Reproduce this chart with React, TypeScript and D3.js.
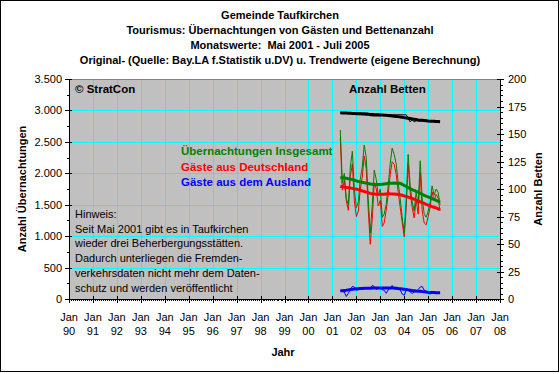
import React from "react";
import * as d3 from "d3";

// ---- data ----
const titleLines = [
  "Gemeinde Taufkirchen",
  "Tourismus: Übernachtungen von Gästen und Bettenanzahl",
  "Monatswerte:  Mai 2001 - Juli 2005",
  "Original- (Quelle: Bay.LA f.Statistik u.DV) u. Trendwerte (eigene Berechnung)",
];
const hinweisLines = [
  "Hinweis:",
  "Seit Mai 2001 gibt es in Taufkirchen",
  "wieder drei Beherbergungsstätten.",
  "Dadurch unterliegen die Fremden-",
  "verkehrsdaten nicht mehr dem Daten-",
  "schutz und werden veröffentlicht",
];
const leftTicks = [0, 500, 1000, 1500, 2000, 2500, 3000, 3500];
const rightTicks = [0, 25, 50, 75, 100, 125, 150, 175, 200];
const yearTicks = d3.range(1990, 2009);

// monthly values May 2001 .. Jul 2005 (51 months)
const startMonth = new Date(2001, 4, 1);
const total = [
  2690, 1850, 2000, 1600, 1500, 2100, 2350, 1750, 1450, 1550,
  1900, 2100, 2450, 2250, 1600, 1050, 1500, 2050, 1900, 1650,
  1750, 1300, 1350, 1500, 1800, 2150, 2400, 2300, 2150, 1850,
  1600, 1300, 1050, 1600, 2300, 1800, 1550, 1400, 1700, 1500,
  2200, 1600, 1350, 1300, 1400, 1550, 1800, 1650, 1750, 1700, 1500,
];
const ausland = [
  130, 120, 110, 40, 90, 150, 200, 190, 140, 150,
  165, 160, 175, 180, 175, 180, 215, 200, 150, 170,
  180, 145, 140, 90, 145, 175, 215, 160, 165, 150,
  145, 80, 60, 140, 150, 110, 90, 110, 120, 150,
  190, 200, 140, 120, 90, 80, 95, 90, 85, 95, 100,
];
const deutschland = [
  2560, 1730, 1890, 1560, 1410, 1950, 2150, 1560, 1310, 1400,
  1735, 1940, 2275, 2070, 1425, 870, 1285, 1850, 1750, 1480,
  1570, 1155, 1210, 1410, 1655, 1975, 2185, 2140, 1985, 1700,
  1455, 1220, 990, 1460, 2150, 1690, 1460, 1290, 1580, 1350,
  2010, 1400, 1210, 1180, 1310, 1470, 1705, 1560, 1665, 1605, 1400,
];
const betten = [
  169, 169, 169, 169, 169, 169, 169, 169, 169, 169,
  169, 169, 169, 169, 169, 166.5, 166.5, 166.5, 166.5, 166.5,
  166.5, 167.5, 167.5, 167.5, 167.5, 167.5, 167.5, 167.5, 167.5, 167.5,
  167.5, 167.5, 167.5, 167.5, 164, 161, 163, 161, 162, 162,
  162, 162, 162, 161.5, 161.5, 161.5, 161.5, 161, 161, 161, 161,
];
const trendTotal = [
  1935, 1930, 1925, 1920, 1913, 1907, 1900, 1890, 1880, 1870,
  1863, 1857, 1850, 1843, 1837, 1830, 1827, 1823, 1820, 1822,
  1823, 1825, 1830, 1835, 1840, 1842, 1843, 1845, 1843, 1842,
  1840, 1823, 1807, 1790, 1773, 1757, 1740, 1727, 1713, 1700,
  1683, 1667, 1650, 1637, 1623, 1610, 1597, 1583, 1570, 1555, 1540,
];
const trendDeutschland = [
  1790, 1785, 1780, 1775, 1770, 1765, 1760, 1753, 1747, 1740,
  1730, 1720, 1710, 1700, 1690, 1680, 1675, 1670, 1665, 1665,
  1665, 1665, 1668, 1672, 1675, 1673, 1672, 1670, 1667, 1663,
  1660, 1650, 1640, 1630, 1620, 1610, 1600, 1587, 1573, 1560,
  1547, 1533, 1520, 1507, 1493, 1480, 1470, 1460, 1450, 1435, 1420,
];
const trendAusland = [
  130, 133, 137, 140, 145, 150, 155, 158, 162, 165,
  167, 168, 170, 171, 172, 173, 174, 175, 175, 175,
  175, 175, 175, 175, 175, 175, 175, 175, 172, 168,
  165, 160, 155, 150, 145, 140, 135, 132, 128, 125,
  122, 118, 115, 112, 108, 105, 103, 102, 100, 100, 100,
];
const trendBetten = [
  169.3, 169.2, 169.1, 169.0, 168.9, 168.8, 168.7, 168.6, 168.5, 168.4,
  168.3, 168.2, 168.1, 168.0, 167.9, 167.8, 167.7, 167.6, 167.5, 167.4,
  167.3, 167.2, 167.1, 167.0, 166.8, 166.6, 166.4, 166.2, 166.0, 165.8,
  165.5, 165.2, 164.9, 164.6, 164.3, 164.0, 163.7, 163.4, 163.1, 162.8,
  162.6, 162.4, 162.2, 162.0, 161.8, 161.7, 161.6, 161.5, 161.4, 161.3, 161.2,
];

const legendItems = [
  { label: "Übernachtungen Insgesamt", color: "#008000" },
  { label: "Gäste aus Deutschland", color: "#FF0000" },
  { label: "Gäste aus dem Ausland", color: "#0000FF" },
];

// ---- layout ----
const W = 560;
const H = 374;
const plot = { left: 69, right: 500, top: 79, bottom: 299 };
const FONT = "'Liberation Sans', Arial, sans-serif";

export default function App() {
  const x = d3
    .scaleTime()
    .domain([new Date(1990, 0, 1), new Date(2008, 0, 1)])
    .range([plot.left, plot.right]);
  const yL = d3.scaleLinear().domain([0, 3500]).range([plot.bottom, plot.top]);
  const yR = d3.scaleLinear().domain([0, 200]).range([plot.bottom, plot.top]);
  const months = total.map((_, i) => d3.timeMonth.offset(startMonth, i));

  const lineL = d3
    .line<number>()
    .x((_, i) => x(months[i]))
    .y((d) => yL(d));
  const lineR = d3
    .line<number>()
    .x((_, i) => x(months[i]))
    .y((d) => yR(d));

  const minorLeft = d3.range(250, 3500, 500);
  const minorRight = d3.range(0, 201, 5).filter((v) => v % 25 !== 0);
  const monthTicks = d3.timeMonth.range(new Date(1990, 0, 1), new Date(2008, 0, 2));

  return (
    <svg
      width={W}
      height={H}
      style={{ position: "absolute", left: 0, top: 0 }}
      fontFamily={FONT}
    >
      <rect x={0} y={0} width={W} height={H} fill="#fff" />
      <rect x={0.5} y={0.5} width={558} height={371} fill="none" stroke="#000" />

      {titleLines.map((t, i) => (
        <text
          key={i}
          x={280}
          y={19 + i * 15}
          textAnchor="middle"
          fontSize={11}
          fontWeight="bold"
          style={{ whiteSpace: "pre" }}
        >
          {t}
        </text>
      ))}

      <rect
        x={plot.left}
        y={plot.top}
        width={plot.right - plot.left}
        height={plot.bottom - plot.top}
        fill="#C0C0C0"
      />
      {/* gridlines */}
      {yearTicks.map((yr) => (
        <line
          key={"vg" + yr}
          x1={Math.round(x(new Date(yr, 0, 1))) + 0.5}
          x2={Math.round(x(new Date(yr, 0, 1))) + 0.5}
          y1={plot.top}
          y2={plot.bottom}
          stroke="#00FFFF"
        />
      ))}
      {leftTicks.map((v) => (
        <line
          key={"hg" + v}
          x1={plot.left}
          x2={plot.right}
          y1={Math.round(yL(v)) + 0.5}
          y2={Math.round(yL(v)) + 0.5}
          stroke="#00FFFF"
        />
      ))}
      <line
        x1={plot.left}
        x2={plot.right}
        y1={plot.top + 0.5}
        y2={plot.top + 0.5}
        stroke="#808080"
      />

      {/* annotations inside plot */}
      <text x={75} y={93} fontSize={11.5} fontWeight="bold">
        © StratCon
      </text>
      <text x={349} y={93} fontSize={11.5} fontWeight="bold">
        Anzahl Betten
      </text>
      {legendItems.map((it, i) => (
        <text
          key={it.label}
          x={181}
          y={155 + i * 15.5}
          fontSize={11.5}
          fontWeight="bold"
          fill={it.color}
        >
          {it.label}
        </text>
      ))}
      {hinweisLines.map((t, i) => (
        <text key={i} x={75} y={218 + i * 14.7} fontSize={11}>
          {t}
        </text>
      ))}

      {/* series: original values */}
      <path d={lineL(deutschland) || ""} fill="none" stroke="#FF0000" strokeWidth={1} />
      <path d={lineL(total) || ""} fill="none" stroke="#008000" strokeWidth={1} />
      <path d={lineL(ausland) || ""} fill="none" stroke="#0000FF" strokeWidth={1} />
      <path d={lineR(betten) || ""} fill="none" stroke="#000" strokeWidth={1} />
      {/* trends */}
      <path d={lineL(trendDeutschland) || ""} fill="none" stroke="#FF0000" strokeWidth={3} />
      <path d={lineL(trendTotal) || ""} fill="none" stroke="#008000" strokeWidth={3} />
      <path d={lineL(trendAusland) || ""} fill="none" stroke="#0000FF" strokeWidth={3} />
      <path d={lineR(trendBetten) || ""} fill="none" stroke="#000" strokeWidth={3} />

      {/* axes */}
      <line x1={plot.left + 0.5} x2={plot.left + 0.5} y1={plot.top} y2={plot.bottom} stroke="#000" />
      <line x1={plot.right + 0.5} x2={plot.right + 0.5} y1={plot.top} y2={plot.bottom} stroke="#000" />
      <line x1={plot.left} x2={plot.right + 1} y1={plot.bottom + 0.5} y2={plot.bottom + 0.5} stroke="#000" />

      {leftTicks.map((v) => (
        <g key={"lt" + v}>
          <line
            x1={plot.left - 4}
            x2={plot.left + 3}
            y1={Math.round(yL(v)) + 0.5}
            y2={Math.round(yL(v)) + 0.5}
            stroke="#000"
          />
          <text x={62} y={yL(v) + 4} textAnchor="end" fontSize={11}>
            {d3.format(",")(v).replace(/,/g, ".")}
          </text>
        </g>
      ))}
      {minorLeft.map((v) => (
        <line
          key={"lm" + v}
          x1={plot.left - 2}
          x2={plot.left}
          y1={Math.round(yL(v)) + 0.5}
          y2={Math.round(yL(v)) + 0.5}
          stroke="#000"
        />
      ))}
      {rightTicks.map((v) => (
        <g key={"rt" + v}>
          <line
            x1={plot.right - 3}
            x2={plot.right + 4}
            y1={Math.round(yR(v)) + 0.5}
            y2={Math.round(yR(v)) + 0.5}
            stroke="#000"
          />
          <text x={508} y={yR(v) + 4} textAnchor="start" fontSize={11}>
            {v}
          </text>
        </g>
      ))}
      {minorRight.map((v) => (
        <line
          key={"rm" + v}
          x1={plot.right}
          x2={plot.right + 3}
          y1={Math.round(yR(v)) + 0.5}
          y2={Math.round(yR(v)) + 0.5}
          stroke="#000"
        />
      ))}
      {monthTicks.map((m, i) => (
        <line
          key={"mt" + i}
          x1={Math.round(x(m)) + 0.5}
          x2={Math.round(x(m)) + 0.5}
          y1={plot.bottom}
          y2={plot.bottom + 2}
          stroke="#000"
        />
      ))}
      {yearTicks.map((yr) => {
        const px = x(new Date(yr, 0, 1));
        return (
          <g key={"xt" + yr}>
            <line
              x1={Math.round(px) + 0.5}
              x2={Math.round(px) + 0.5}
              y1={plot.bottom - 3}
              y2={plot.bottom + 4}
              stroke="#000"
            />
            <text x={px} y={321} textAnchor="middle" fontSize={11}>
              Jan
            </text>
            <text x={px} y={335} textAnchor="middle" fontSize={11}>
              {String(yr % 100).padStart(2, "0")}
            </text>
          </g>
        );
      })}

      {/* axis titles */}
      <text x={283} y={356} textAnchor="middle" fontSize={11} fontWeight="bold">
        Jahr
      </text>
      <text
        transform={`translate(26,189) rotate(-90)`}
        textAnchor="middle"
        fontSize={11}
        fontWeight="bold"
      >
        Anzahl Übernachtungen
      </text>
      <text
        transform={`translate(542,189) rotate(-90)`}
        textAnchor="middle"
        fontSize={11}
        fontWeight="bold"
      >
        Anzahl Betten
      </text>
    </svg>
  );
}
